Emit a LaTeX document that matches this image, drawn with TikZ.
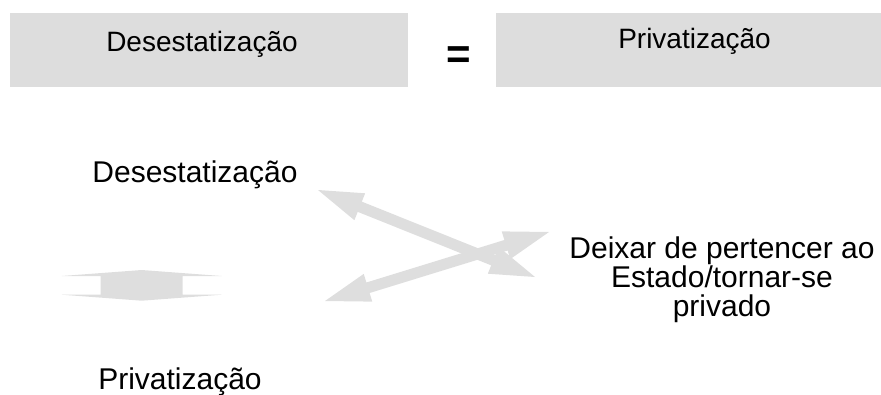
\documentclass[tikz,border=0pt]{standalone}
\usepackage{fontspec}
\setmainfont{Liberation Sans}
\usetikzlibrary{calc}
\definecolor{boxgray}{RGB}{221,221,221}
\definecolor{arrowgray}{RGB}{222,222,222}
\tikzset{
  topbox/.style={fill=boxgray, draw=none},
  toptext/.style={inner sep=0pt, anchor=base, font=\fontsize{28}{30}\selectfont},
  lowtext/.style={inner sep=0pt, anchor=base, font=\fontsize{30}{29}\selectfont},
  arrowfill/.style={fill=arrowgray, draw=none}
}
% double block arrow: #1 tip A, #2 tip B, #3 head length, #4 head half width, #5 shaft half width
\newcommand{\blockdblarrow}[5]{%
  \fill[arrowfill] (#1)
    -- ($(#1)!#3!(#2)!#4!90:(#2)$)
    -- ($(#1)!#3!(#2)!#5!90:(#2)$)
    -- ($(#2)!#3!(#1)!#5!-90:(#1)$)
    -- ($(#2)!#3!(#1)!#4!-90:(#1)$)
    -- (#2)
    -- ($(#2)!#3!(#1)!#4!90:(#1)$)
    -- ($(#2)!#3!(#1)!#5!90:(#1)$)
    -- ($(#1)!#3!(#2)!#5!-90:(#2)$)
    -- ($(#1)!#3!(#2)!#4!-90:(#2)$)
    -- cycle;}
\begin{document}
\begin{tikzpicture}[x=1pt,y=-1pt]
\useasboundingbox (0,0) rectangle (881,394);
% top boxes
\fill[topbox] (10,13) rectangle (408,87);
\fill[topbox] (496,13) rectangle (881,87);
\node[toptext] (tl) at (202,51) {Desestatização};
\node[toptext] (tr) at (694.5,48) {Privatização};
\node[inner sep=0pt, anchor=base, font=\bfseries\fontsize{42}{42}\selectfont] (eq) at (459,68) {=};
% lower texts
\node[lowtext] (des) at (195,182) {Desestatização};
\node[lowtext] (pri) at (180,389) {Privatização};
\node[lowtext, align=center] (def) at (722,316) {Deixar de pertencer ao\\Estado/tornar-se\\privado};
% arrow tips
\coordinate (ua) at (318,190);
\coordinate (ub) at (535,277);
\coordinate (la) at (325,301);
\coordinate (lb) at (549,232);
\coordinate (va) at (141.7,270);
\coordinate (vb) at (141.7,300.7);
\blockdblarrow{ua}{ub}{45pt}{14.5pt}{5.5pt}
\blockdblarrow{la}{lb}{45pt}{14.5pt}{5.5pt}
\blockdblarrow{va}{vb}{6pt}{80pt}{41pt}
\end{tikzpicture}
\end{document}
